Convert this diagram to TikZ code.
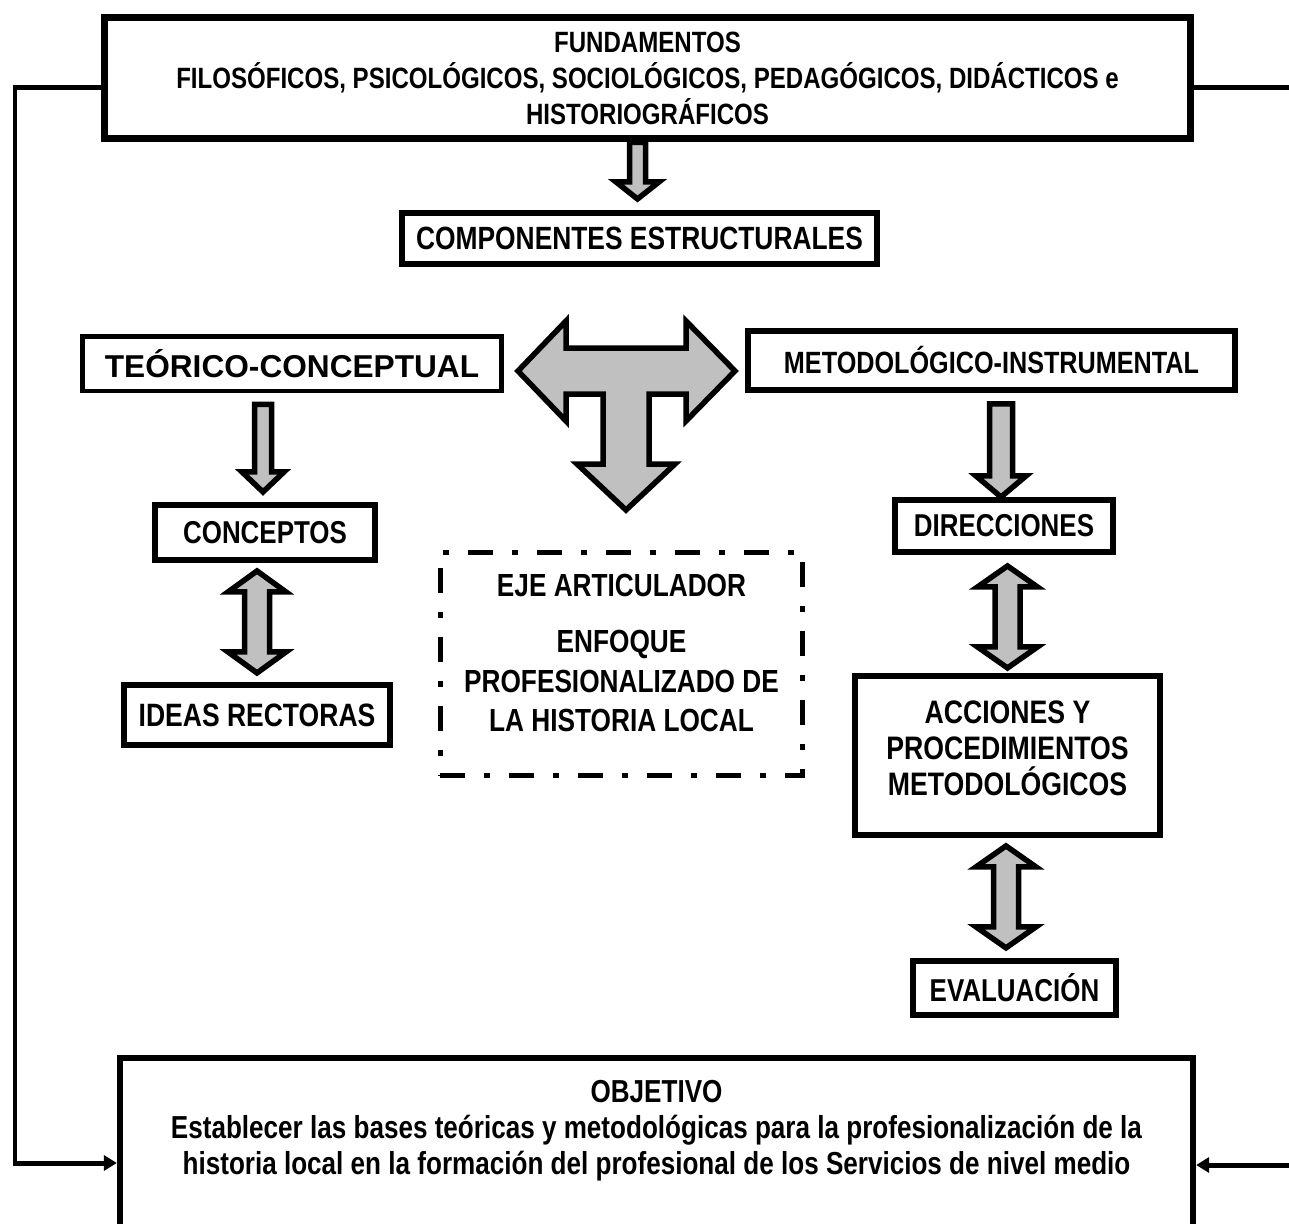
\documentclass[tikz,border=0pt]{standalone}
\usepackage{fontspec}
\usepackage{tikz}
\usetikzlibrary{positioning,calc,arrows.meta}
\newfontfamily\narrowsans{Liberation Sans}[FakeStretch=0.82]
\newfontfamily\widesans{Liberation Sans}
\definecolor{arrowgray}{RGB}{192,192,192}

\tikzset{
  box/.style={draw, fill=white, line width=0.12cm, inner sep=0pt, align=center,
    font=\narrowsans\bfseries\fontsize{18}{21}\selectfont},
  dashbox/.style={box, line width=0.1cm,
    dash pattern=on 0.5cm off 0.38cm on 0.12cm off 0.38cm},
  link/.style={line width=0.1cm},
  linkarrow/.style={link, -{Triangle[length=0.26cm,width=0.3cm]}},
  blockarrow/.style={draw, fill=arrowgray, line width=0.11cm, line join=miter},
}

% block arrow down: start, tip, half shaft, half head, head length
\newcommand{\downblock}[5]{%
  \draw[blockarrow] let \p1=(#1), \p2=(#2) in
    (\x2-#3,\y1) -- (\x2-#3,\y2+#5) -- (\x2-#4,\y2+#5) -- (\x2,\y2)
    -- (\x2+#4,\y2+#5) -- (\x2+#3,\y2+#5) -- (\x2+#3,\y1) -- cycle;}
% block arrow with two heads: top tip, bottom tip, half shaft, half head, head length
\newcommand{\dblblock}[5]{%
  \draw[blockarrow] let \p1=(#1), \p2=(#2) in
    (\x2,\y1) -- (\x2+#4,\y1-#5) -- (\x2+#3,\y1-#5) -- (\x2+#3,\y2+#5)
    -- (\x2+#4,\y2+#5) -- (\x2,\y2) -- (\x2-#4,\y2+#5) -- (\x2-#3,\y2+#5)
    -- (\x2-#3,\y1-#5) -- (\x2-#4,\y1-#5) -- cycle;}

\begin{document}
\begin{tikzpicture}[x=0.02cm, y=-0.02cm]
	\useasboundingbox (0,0) rectangle (1289,1224);
	\clip (0,0) rectangle (1289,1224);

	\node[box, line width=0.14cm, minimum width=21.74cm, minimum height=2.44cm, text depth=-0.32cm,
	  font=\narrowsans\bfseries\fontsize{16.7}{20.5}\selectfont] (fund) at (647.5,78)
	  {FUNDAMENTOS\\FILOSÓFICOS, PSICOLÓGICOS, SOCIOLÓGICOS, PEDAGÓGICOS, DIDÁCTICOS e\\HISTORIOGRÁFICOS};
	\node[box, minimum width=9.5cm, minimum height=1.02cm, below=1.35cm of fund, xshift=-0.16cm,
	  font=\narrowsans\bfseries\fontsize{18.3}{21}\selectfont] (comp) {COMPONENTES ESTRUCTURALES};

	\node[box, line width=0.1cm, minimum width=8.4cm, minimum height=1.1cm,
	  font=\widesans\bfseries\fontsize{18}{21}\selectfont] (teo) at (292,363.5) {TEÓRICO-CONCEPTUAL};
	\node[box, minimum width=9.74cm, minimum height=1.18cm,
	  font=\narrowsans\bfseries\fontsize{17.5}{21}\selectfont] (met) at (991.5,360.5) {METODOLÓGICO-INSTRUMENTAL};

	\node[box, minimum width=4.4cm, minimum height=1.1cm, below=2.17cm of teo, xshift=-0.54cm] (conc) {CONCEPTOS};
	\node[box, minimum width=5.32cm, minimum height=1.2cm, below=2.38cm of conc, xshift=-0.16cm,
	  font=\narrowsans\bfseries\fontsize{18.4}{21}\selectfont] (ideas) {IDEAS RECTORAS};

	\node[dashbox, minimum width=7.26cm, minimum height=4.48cm, text depth=0.44cm,
	  font=\narrowsans\bfseries\fontsize{18.2}{22.5}\selectfont] (eje) at (621.5,664)
	  {EJE ARTICULADOR\\[0.34cm]ENFOQUE\\PROFESIONALIZADO DE\\LA HISTORIA LOCAL};

	\node[box, minimum width=4.36cm, minimum height=1.04cm, below=2.08cm of met, xshift=0.25cm] (dir) {DIRECCIONES};
	\node[box, minimum width=6.1cm, minimum height=3.18cm, below=2.36cm of dir, xshift=0.07cm, text depth=0.28cm,
	  font=\narrowsans\bfseries\fontsize{18.5}{20.5}\selectfont] (acc) {ACCIONES Y\\PROCEDIMIENTOS\\METODOLÓGICOS};
	\node[box, minimum width=4.06cm, minimum height=1.08cm, below=2.4cm of acc, xshift=0.14cm] (eva) {EVALUACIÓN};

	\node[box, line width=0.13cm, minimum width=21.46cm, anchor=north, inner ysep=0.44cm, text depth=4cm,
	  font=\narrowsans\bfseries\fontsize{18.1}{20.5}\selectfont] (obj) at (656.5,1054.7)
	  {OBJETIVO\\Establecer las bases teóricas y metodológicas para la profesionalización de la\\historia local en la formación del profesional de los Servicios de nivel medio};

	\coordinate (ltop) at (15,87);
	\coordinate (lbot) at (15,1163);
	\coordinate (rtop) at (1295,87);
	\coordinate (rbot) at (1295,1165);

	\draw[linkarrow] (fund.west |- ltop) -- (ltop) -- (lbot) -- (obj.west |- lbot);
	\draw[link] (fund.east |- rtop) -- (rtop);
	\draw[linkarrow] (rbot) -- (obj.east |- rbot);

	\downblock{comp.north |- fund.south}{$(comp.north)+(-2,-11)$}{0.16cm}{0.43cm}{0.34cm}
	\downblock{$(conc.north |- teo.south)+(0,11)$}{$(conc.north)+(-2,-10)$}{0.17cm}{0.42cm}{0.4cm}
	\dblblock{$(ideas.north |- conc.south)+(0,8)$}{$(ideas.north)+(0,-9)$}{0.25cm}{0.58cm}{0.42cm}
	\downblock{$(dir.north |- met.south)+(0,11)$}{$(dir.north)+(-3,0)$}{0.23cm}{0.5cm}{0.42cm}
	\dblblock{$(acc.north |- dir.south)+(0,11)$}{$(acc.north)+(0,-5)$}{0.25cm}{0.6cm}{0.42cm}
	\dblblock{$(acc.south)+(-1.5,8)$}{$(eva.north)+(-8.5,-10)$}{0.25cm}{0.6cm}{0.42cm}

	\draw[blockarrow] (518,371) -- (566,321) -- (566,348) -- (686,348) -- (686,321) -- (735,371)
	  -- (686,421) -- (686,394) -- (649,394) -- (649,464) -- (675,464) -- (626,510) -- (577,464)
	  -- (603,464) -- (603,394) -- (566,394) -- (566,421) -- cycle;
\end{tikzpicture}
\end{document}
